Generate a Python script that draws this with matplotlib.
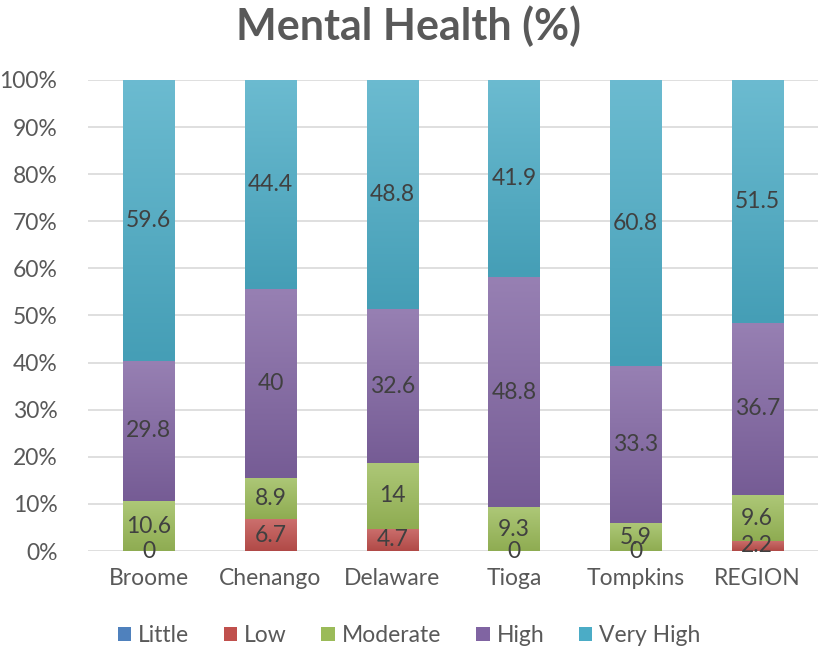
import numpy as np
import matplotlib
matplotlib.use("Agg")
import matplotlib.pyplot as plt
from matplotlib.colors import to_rgb

categories = ["Broome", "Chenango", "Delaware", "Tioga", "Tompkins", "REGION"]
little = [0, 0, 0, 0, 0, 0]
low = [0, 6.7, 4.7, 0, 0, 2.2]
moderate = [10.6, 8.9, 14, 9.3, 5.9, 9.6]
high = [29.8, 40, 32.6, 48.8, 33.3, 36.7]
very_high = [59.6, 44.4, 48.8, 41.9, 60.8, 51.5]
series_names = ["Little", "Low", "Moderate", "High", "Very High"]
y_ticks = [0, 10, 20, 30, 40, 50, 60, 70, 80, 90, 100]

colors = ["#4F81BD", "#C0504D", "#9BBB59", "#8064A2", "#4BACC6"]
label_flags = [False, True, True, True, True]

plt.rcParams['font.family'] = ['Lato', 'DejaVu Sans']
fig = plt.figure(figsize=(8.18, 6.53), dpi=100)
ax = fig.add_axes([0.1076, 0.1562, 0.8924, 0.7213])

x = np.arange(len(categories))
series = [little, low, moderate, high, very_high]
bottom = np.zeros(len(categories))
width = 0.42
for name, vals, col, flag in zip(series_names, series, colors, label_flags):
    vals = np.array(vals, dtype=float)
    bars = ax.bar(x, vals, width, bottom=bottom, color=col, label=name, zorder=2)
    base = np.array(to_rgb(col))
    light = base + (1 - base) * 0.18
    dark = base * 0.92
    grad = np.linspace(0, 1, 64)[:, None, None]
    img = light[None, None, :] * (1 - grad) + dark[None, None, :] * grad
    for b in bars:
        if b.get_height() <= 0:
            continue
        bx, by, bw, bh = b.get_x(), b.get_y(), b.get_width(), b.get_height()
        im = ax.imshow(img, extent=(bx, bx + bw, by, by + bh), aspect='auto',
                       origin='upper', zorder=2.5, interpolation='bilinear')
        im.set_clip_path(b)
    if flag:
        labs = ["{:g}".format(v) for v in vals]
        ax.bar_label(bars, labels=labs, label_type='center', fontsize=16.5,
                     color='#404040', zorder=5)
    bottom += vals

ax.set_xlim(-0.5, len(categories) - 0.5)
ax.set_ylim(0, 100)
ax.set_yticks(y_ticks)
ax.set_yticklabels([f"{t}%" for t in y_ticks])
ax.set_xticks(x)
ax.set_xticklabels(categories)
ax.tick_params(axis='both', length=0, labelsize=16.5, labelcolor='#595959')
ax.tick_params(axis='x', pad=12)
ax.tick_params(axis='y', pad=22)
ax.yaxis.grid(True, color='#D9D9D9', linewidth=1.2, zorder=0)
ax.set_axisbelow(True)
for s in ax.spines.values():
    s.set_visible(False)

fig.text(0.5, 0.96, "Mental Health (%)", ha='center', va='center',
         fontsize=31, fontweight='bold', color='#595959')

handles, labels_ = ax.get_legend_handles_labels()
fig.legend(handles, labels_, loc='center', bbox_to_anchor=(0.5, 0.027), ncol=5,
           frameon=False, fontsize=16.5, labelcolor='#595959', handlelength=0.6,
           handleheight=0.6, handletextpad=0.3, columnspacing=1.5)

fig.savefig("out.png", dpi=100)
